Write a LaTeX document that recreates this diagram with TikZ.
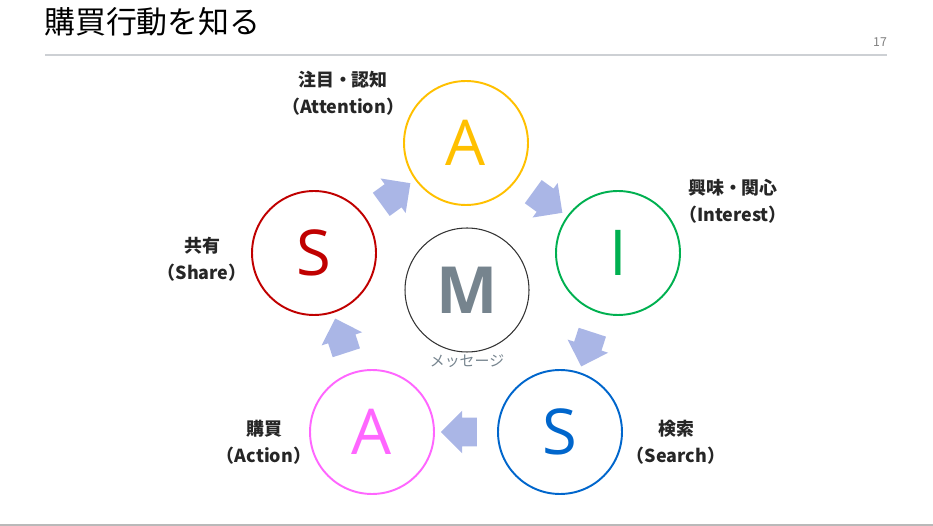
\documentclass[tikz,border=0pt]{standalone}
\usepackage{fontspec}
\setmainfont{Noto Sans CJK JP}
\newfontfamily\letterfont{Open Sans}
\usepackage{tikz}
\usetikzlibrary{shapes.arrows,calc}
\usepackage{xcolor}
\definecolor{asgold}{RGB}{255,192,0}
\definecolor{asgreen}{RGB}{0,176,80}
\definecolor{asblue}{RGB}{0,102,204}
\definecolor{aspink}{RGB}{255,102,255}
\definecolor{asred}{RGB}{192,0,0}
\definecolor{asslate}{RGB}{118,132,142}
\definecolor{asarrow}{RGB}{170,182,230}
\definecolor{asrule}{RGB}{205,208,212}
\tikzset{
  stagenode/.style={circle,draw=#1,line width=1.1pt,minimum size=2.48cm,inner sep=0pt,
    text=#1,font=\letterfont\fontsize{36}{36}\selectfont},
  msgnode/.style={circle,draw=black!80,line width=0.6pt,minimum size=2.48cm,inner sep=0pt,
    text=asslate,font=\letterfont\bfseries\fontsize{37}{37}\selectfont},
  stagelabel/.style={align=center,text=black!85,font=\bfseries\fontsize{10.2}{15.4}\selectfont},
  flowarrow/.style={single arrow,fill=asarrow,draw=none,minimum height=0.72cm,
    single arrow head extend=0.14cm,single arrow head indent=0pt,
    inner xsep=0pt,inner ysep=0.28cm}
}

\begin{document}
\begin{tikzpicture}[x=0.02cm,y=-0.02cm]
  \useasboundingbox (0,0) rectangle (933,526);
  \node[anchor=west,font=\fontsize{17.6}{20}\selectfont] (title) at (38,22) {購買行動を知る};
  \node[font=\fontsize{7}{8}\selectfont,text=gray] (pageno) at (880,42) {17};
  \draw[asrule,line width=0.6pt] (45,55) -- (887,55);
  \draw[gray!55,line width=0.8pt] (0,525) -- (933,525);
  \node[stagenode=asgold] (attn) at (466,143) {A};
  \node[stagenode=asgreen] (intr) at (618,253) {I};
  \node[stagenode=asblue] (srch) at (560,432) {S};
  \node[stagenode=aspink] (actn) at (372,432) {A};
  \node[stagenode=asred] (shar) at (314,253) {S};
  \node[msgnode] (msg) at (467,290) {M};
  \node[text=asslate,font=\fontsize{8.5}{9}\selectfont] (msgtext) at (467,361) {メッセージ};
  \node[flowarrow,rotate=-36] (a1) at ($(attn)!0.5!(intr)$) {};
  \node[flowarrow,rotate=-108] (a2) at ($(intr)!0.5!(srch)$) {};
  \node[flowarrow,rotate=180] (a3) at ($(srch)!0.5!(actn)$) {};
  \node[flowarrow,rotate=108] (a4) at ($(actn)!0.5!(shar)$) {};
  \node[flowarrow,rotate=36] (a5) at ($(shar)!0.5!(attn)$) {};
  \node[stagelabel] (attnlbl) at (343,93.5) {注目・認知\\（Attention）};
  \node[stagelabel] (intrlbl) at (733,201.5) {興味・関心\\（Interest）};
  \node[stagelabel] (srchlbl) at (676,442) {検索\\（Search）};
  \node[stagelabel] (actnlbl) at (264,442) {購買\\（Action）};
  \node[stagelabel] (sharlbl) at (202,259.5) {共有\\（Share）};
\end{tikzpicture}
\end{document}
